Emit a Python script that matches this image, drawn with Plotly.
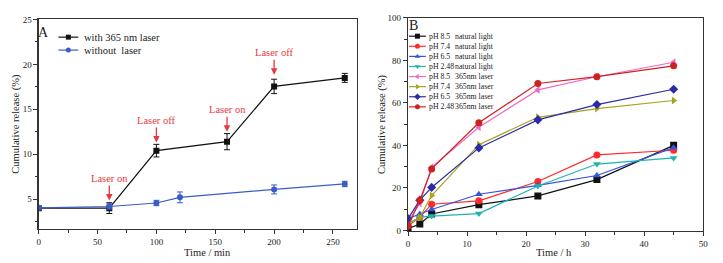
import plotly.graph_objects as go

W, H = 723, 263
SERIF = "Liberation Serif, Times New Roman, serif"

# ---------------- Panel A data ----------------
a_x_laser = [0, 60, 100, 160, 200, 260]
a_y_laser = [4.0, 4.0, 10.4, 11.4, 17.55, 18.5]
a_e_laser = [0.2, 0.6, 0.7, 0.9, 0.8, 0.5]
a_x_nolaser = [0, 60, 100, 120, 200, 260]
a_y_nolaser = [4.03, 4.18, 4.57, 5.2, 6.08, 6.69]
a_e_nolaser = [0.2, 0.3, 0.3, 0.6, 0.5, 0.3]
a_names = ["with 365 nm laser", "without  laser"]
a_colors = ["#111111", "#3a5cc8"]
a_symbols = ["square", "circle"]

a_notes_x = [60, 100, 160, 200]
a_notes_y = [4.86, 11.3, 12.5, 18.84]
a_notes_text = ["Laser on", "Laser off", "Laser on", "Laser off"]

# ---------------- Panel B data ----------------
b_x = [0, 2, 4, 12, 22, 32, 45]
b_series = [
    ("pH 8.5", "natural light", [0.8, 3.0, 7.7, 12.1, 16.2, 23.9, 40.0]),
    ("pH 7.4", "natural light", [2.0, 6.2, 12.3, 13.9, 23.0, 35.5, 37.7]),
    ("pH 6.5", "natural light", [5.5, 7.7, 9.8, 17.0, 21.2, 25.8, 38.9]),
    ("pH 2.48", "natural light", [3.0, 6.2, 6.7, 7.9, 20.9, 31.2, 34.1]),
    ("pH 8.5", "365nm laser", [4.0, 12.7, 29.7, 48.5, 66.1, 72.3, 79.1]),
    ("pH 7.4", "365nm laser", [3.0, 6.1, 16.4, 40.3, 53.2, 57.3, 61.1]),
    ("pH 6.5", "365nm laser", [5.5, 14.2, 20.2, 38.8, 52.0, 59.2, 66.4]),
    ("pH 2.48", "365nm laser", [2.0, 14.2, 28.9, 50.6, 69.1, 72.3, 77.4]),
]
b_colors = ["#111111", "#ff2b2b", "#3355dd", "#1fb3b3",
            "#f06ac4", "#a9a21e", "#2b2ba6", "#cc2222"]
b_symbols = ["square", "circle", "triangle-up", "triangle-down",
             "triangle-left", "triangle-right", "diamond", "circle"]

fig = go.Figure()

# Panel A traces
fig.add_trace(go.Scatter(x=a_x_laser, y=a_y_laser, mode="lines+markers",
                         line=dict(color=a_colors[0], width=1.2),
                         marker=dict(symbol=a_symbols[0], size=6, color=a_colors[0]),
                         error_y=dict(type="data", array=a_e_laser, color=a_colors[0],
                                      thickness=1, width=3),
                         xaxis="x", yaxis="y", showlegend=False))
fig.add_trace(go.Scatter(x=a_x_nolaser, y=a_y_nolaser, mode="lines+markers",
                         line=dict(color=a_colors[1], width=1.2),
                         marker=dict(symbol=a_symbols[1], size=6, color=a_colors[1]),
                         error_y=dict(type="data", array=a_e_nolaser, color=a_colors[1],
                                      thickness=1, width=3),
                         xaxis="x", yaxis="y", showlegend=False))

# Panel B traces
for (ph, cond, ys), c, s in zip(b_series, b_colors, b_symbols):
    fig.add_trace(go.Scatter(x=b_x, y=ys, mode="lines+markers",
                             line=dict(color=c, width=1.2),
                             marker=dict(symbol=s, size=7, color=c),
                             xaxis="x2", yaxis="y2", showlegend=False,
                             name=f"{ph} {cond}"))

# ---- custom legends on a pixel-space helper axis (x3/y3) ----
annotations = []
leg_a_top, leg_a_step = 33.3, 13.4
for i, (nm, c, s) in enumerate(zip(a_names, a_colors, a_symbols)):
    yy = leg_a_top + i * leg_a_step
    fig.add_trace(go.Scatter(x=[57, 77], y=[yy, yy], mode="lines",
                             line=dict(color=c, width=1.2), xaxis="x3", yaxis="y3",
                             showlegend=False, hoverinfo="skip"))
    fig.add_trace(go.Scatter(x=[67], y=[yy], mode="markers",
                             marker=dict(symbol=s, size=5, color=c), xaxis="x3", yaxis="y3",
                             showlegend=False, hoverinfo="skip"))
    annotations.append(dict(x=81, y=yy, xref="x3", yref="y3", text=nm, showarrow=False,
                            xanchor="left", yanchor="middle",
                            font=dict(family=SERIF, size=10.5, color="#222")))

leg_b_top, leg_b_step = 32.3, 10.45
for i, ((ph, cond, ys), c, s) in enumerate(zip(b_series, b_colors, b_symbols)):
    yy = leg_b_top + i * leg_b_step
    fig.add_trace(go.Scatter(x=[411, 428], y=[yy, yy], mode="lines",
                             line=dict(color=c, width=1.2), xaxis="x3", yaxis="y3",
                             showlegend=False, hoverinfo="skip"))
    fig.add_trace(go.Scatter(x=[419.5], y=[yy], mode="markers",
                             marker=dict(symbol=s, size=5, color=c), xaxis="x3", yaxis="y3",
                             showlegend=False, hoverinfo="skip"))
    annotations.append(dict(x=429, y=yy, xref="x3", yref="y3", text=ph, showarrow=False,
                            xanchor="left", yanchor="middle",
                            font=dict(family=SERIF, size=7.8, color="#222")))
    annotations.append(dict(x=455, y=yy, xref="x3", yref="y3", text=cond, showarrow=False,
                            xanchor="left", yanchor="middle",
                            font=dict(family=SERIF, size=7.8, color="#222")))

# Laser annotations with arrows
for xv, yv, t in zip(a_notes_x, a_notes_y, a_notes_text):
    annotations.append(dict(x=xv, y=yv, xref="x", yref="y", text=t, showarrow=True,
                            ax=0, ay=-22, arrowhead=2, arrowsize=1, arrowwidth=1.3,
                            arrowcolor="#e8383d", standoff=0,
                            font=dict(family=SERIF, size=10.5, color="#e8383d")))

# Panel letters
annotations.append(dict(x=42, y=28, xref="x3", yref="y3", text="A", showarrow=False,
                        xanchor="center", yanchor="middle",
                        font=dict(family=SERIF, size=14, color="#222")))
annotations.append(dict(x=416, y=21, xref="x3", yref="y3", text="B", showarrow=False,
                        xanchor="center", yanchor="middle",
                        font=dict(family=SERIF, size=14, color="#222")))

# Axis titles
title_font = dict(family=SERIF, size=10.5, color="#222")
annotations.append(dict(x=14, y=123, xref="x3", yref="y3", text="Cumulative release (%)",
                        showarrow=False, textangle=-90, font=title_font))
annotations.append(dict(x=383, y=123, xref="x3", yref="y3", text="Cumulative release (%)",
                        showarrow=False, textangle=-90, font=title_font))
annotations.append(dict(x=207, y=256, xref="x3", yref="y3", text="Time / min",
                        showarrow=False, font=title_font))
annotations.append(dict(x=557, y=256.5, xref="x3", yref="y3", text="Time / h",
                        showarrow=False, font=title_font))

tick_font = dict(family=SERIF, size=9, color="#222")
axis_common = dict(showline=True, linecolor="#333", linewidth=1.2, mirror=True,
                   ticks="outside", ticklen=4, tickwidth=1, tickcolor="#333",
                   showgrid=False, zeroline=False, tickfont=tick_font)

fig.update_layout(
    width=W, height=H,
    margin=dict(l=0, r=0, t=0, b=0),
    paper_bgcolor="white", plot_bgcolor="rgba(0,0,0,0)",
    showlegend=False,
    xaxis=dict(domain=[37 / W, 358 / W], range=[0, 270], dtick=50,
               minor=dict(dtick=25, ticklen=2.5, ticks="outside", tickcolor="#333"),
               anchor="y", **axis_common),
    yaxis=dict(domain=[1 - 232 / H, 1 - 15 / H], range=[1.67, 25], dtick=5,
               minor=dict(dtick=2.5, ticklen=2.5, ticks="outside", tickcolor="#333"),
               anchor="x", **axis_common),
    xaxis2=dict(domain=[410 / W, 708 / W], range=[0, 50], dtick=10,
                minor=dict(dtick=5, ticklen=2.5, ticks="outside", tickcolor="#333"),
                anchor="y2", **axis_common),
    yaxis2=dict(domain=[1 - 234 / H, 1 - 13.3 / H], range=[-0.3, 100], dtick=20,
                minor=dict(dtick=10, ticklen=2.5, ticks="outside", tickcolor="#333"),
                anchor="x2", **axis_common),
    xaxis3=dict(domain=[0, 1], range=[0, W], visible=False, anchor="y3", fixedrange=True),
    yaxis3=dict(domain=[0, 1], range=[H, 0], visible=False, anchor="x3", fixedrange=True),
    annotations=annotations,
)

fig.write_html("out.html", config={"displayModeBar": False, "staticPlot": True},
               post_script="document.body.style.margin='0';document.body.style.overflow='hidden';")
